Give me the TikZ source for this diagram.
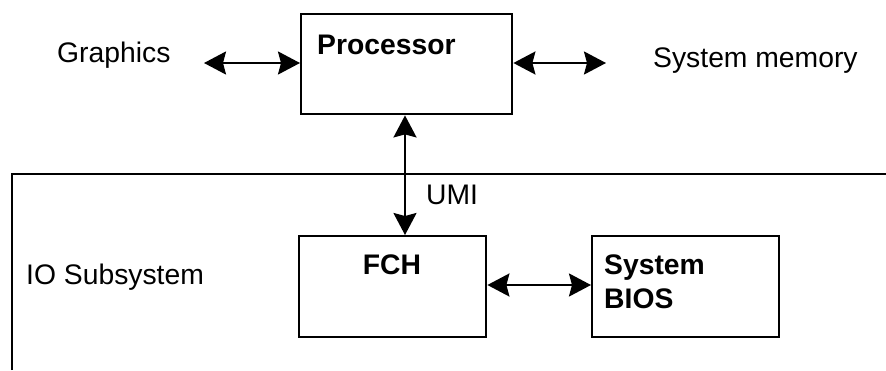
\documentclass[tikz,border=0pt]{standalone}
\usepackage{fontspec}
\setmainfont{Liberation Sans}
\usetikzlibrary{arrows.meta}
\begin{document}
\begin{tikzpicture}[x=1pt,y=-1pt,
  blk/.style={draw,line width=2.4pt,minimum width=211pt,minimum height=100pt,anchor=north west,inner sep=0pt},
  bus/.style={line width=2.2pt,{Stealth[length=22pt,width=23pt,inset=3pt]}-{Stealth[length=22pt,width=23pt,inset=3pt]}},
  lbl/.style={font=\fontsize{28.3}{32}\selectfont,inner sep=0pt,anchor=base west},
  blbl/.style={font=\fontsize{28.3}{34}\selectfont\bfseries,inner sep=0pt}]
\useasboundingbox (0,0) rectangle (886,370);
\fill[white] (0,0) rectangle (886,370);

% IO subsystem frame (open at right and bottom)
\draw[line width=1.6pt] (12,370) -- (12,174) -- (886,174);
\node[lbl] (io) at (26,284) {IO Subsystem};

% processor block
\node[blk,minimum width=211pt] (proc) at (300,13) {};
\node[blbl,anchor=base west] (proct) at (317,54) {Processor};

% south bridge and firmware
\node[blk,minimum width=187pt,minimum height=101pt] (fch) at (298,235) {};
\node[blbl,anchor=base] (fcht) at (392,274) {FCH};
\node[blk,minimum width=187pt,minimum height=101pt] (bios) at (591,235) {};
\node[blbl,anchor=base west] (biost1) at (604,274) {System};
\node[blbl,anchor=base west] (biost2) at (604,308) {BIOS};

% side labels
\node[lbl] (gfx) at (57,62) {Graphics};
\node[lbl] (mem) at (653,67) {System memory};
\node[lbl] (umi) at (426,204) {UMI};

\coordinate (gfxend) at (204,63);
\coordinate (memend) at (606,63);

% links
\draw[bus] (gfxend) -- (gfxend -| proc.west);
\draw[bus] (proc.east |- memend) -- (memend);
\draw[bus] (proc.south -| 405,0) -- (fch.north -| 405,0);
\draw[bus] (fch.east |- 0,285) -- (bios.west |- 0,285);
\end{tikzpicture}
\end{document}
